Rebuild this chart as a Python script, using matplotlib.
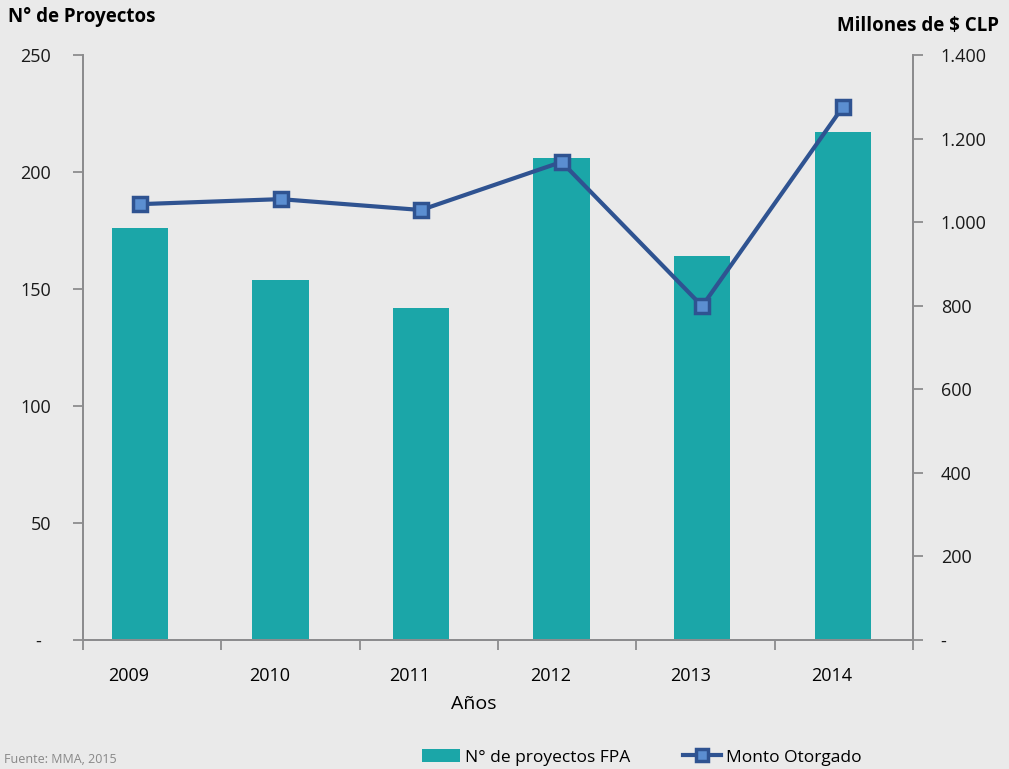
import matplotlib
matplotlib.use("Agg")
import matplotlib.pyplot as plt
import numpy as np
from matplotlib.lines import Line2D
from matplotlib.patches import Patch

plt.rcParams['font.family'] = ['Open Sans', 'DejaVu Sans']

years = ['2009', '2010', '2011', '2012', '2013', '2014']
proyectos = [176, 154, 142, 206, 164, 217]          # N° de proyectos FPA
monto = [1043, 1055, 1029, 1144, 799, 1275]          # Millones de $ CLP
left_ticks = [0, 50, 100, 150, 200, 250]
right_ticks = [0, 200, 400, 600, 800, 1000, 1200, 1400]

bg = '#EAEAEA'
teal = '#1BA6A8'
navy = '#2F5391'
axis_col = '#8C8C8E'

fig = plt.figure(figsize=(10.09, 7.69), dpi=100, facecolor=bg)
ax = fig.add_axes([0.0823, 0.1678, 0.8225, 0.7607], facecolor=bg)
ax2 = ax.twinx()

x = np.arange(len(years))
ax.bar(x, proyectos, width=0.4, color=teal, zorder=2)
ax2.plot(x, monto, color=navy, lw=3, marker='s', markersize=10,
         markerfacecolor='#5B8ED1', markeredgecolor=navy, markeredgewidth=2.5, zorder=3)

x0, x1 = -0.405, 5.5
ax.set_xlim(x0, x1)
ax.set_ylim(0, 250)
ax2.set_ylim(0, 1400)

# category ticks sit on the boundaries, labels are placed by hand
ax.set_xticks(np.linspace(x0, x1, 7))
ax.set_xticklabels([])
for i, yr in enumerate(years):
    ax.text(i - 0.08, -0.062, yr, transform=ax.get_xaxis_transform(),
            ha='center', va='center', fontsize=13)

def fmt(v):
    return '-  ' if v == 0 else f'{v:,}'.replace(',', '.')

ax.set_yticks(left_ticks)
ax.set_yticklabels([fmt(v) for v in left_ticks])
ax2.set_yticks(right_ticks)
ax2.set_yticklabels(['-' if v == 0 else fmt(v) for v in right_ticks])

for a in (ax, ax2):
    for s in a.spines.values():
        s.set_color(axis_col)
        s.set_linewidth(1.3)
    a.spines['top'].set_visible(False)
    a.tick_params(colors=axis_col, labelcolor='#1a1a1a', labelsize=13, length=7, width=1.3)
ax.tick_params(axis='y', pad=16)
ax2.tick_params(axis='y', pad=13)
for lab in ax2.get_yticklabels():
    lab.set_ha('left')

ax.set_zorder(ax2.get_zorder() - 1)
ax2.patch.set_visible(False)

fig.text(0.008, 0.978, 'N° de Proyectos', fontsize=13.5, fontweight='bold', ha='left', va='center')
fig.text(0.99, 0.966, 'Millones de $ CLP', fontsize=13.5, fontweight='bold', ha='right', va='center')
fig.text(0.47, 0.085, 'Años', fontsize=14, ha='center', va='center')

handles = [Patch(facecolor=teal, edgecolor='none'),
           Line2D([0], [0], color=navy, lw=3, marker='s', markersize=9,
                  markerfacecolor='#5B8ED1', markeredgecolor=navy, markeredgewidth=2.5)]
fig.legend(handles, ['N° de proyectos FPA', 'Monto Otorgado'], loc='center',
           bbox_to_anchor=(0.636, 0.015), ncol=2, frameon=False, fontsize=12.5,
           handlelength=2.2, handleheight=0.8, handletextpad=0.3, columnspacing=3.0)

fig.text(0.004, 0.012, 'Fuente: MMA, 2015', fontsize=9, color='#888888', ha='left', va='center')

fig.savefig('out.png', dpi=100, facecolor=bg)
